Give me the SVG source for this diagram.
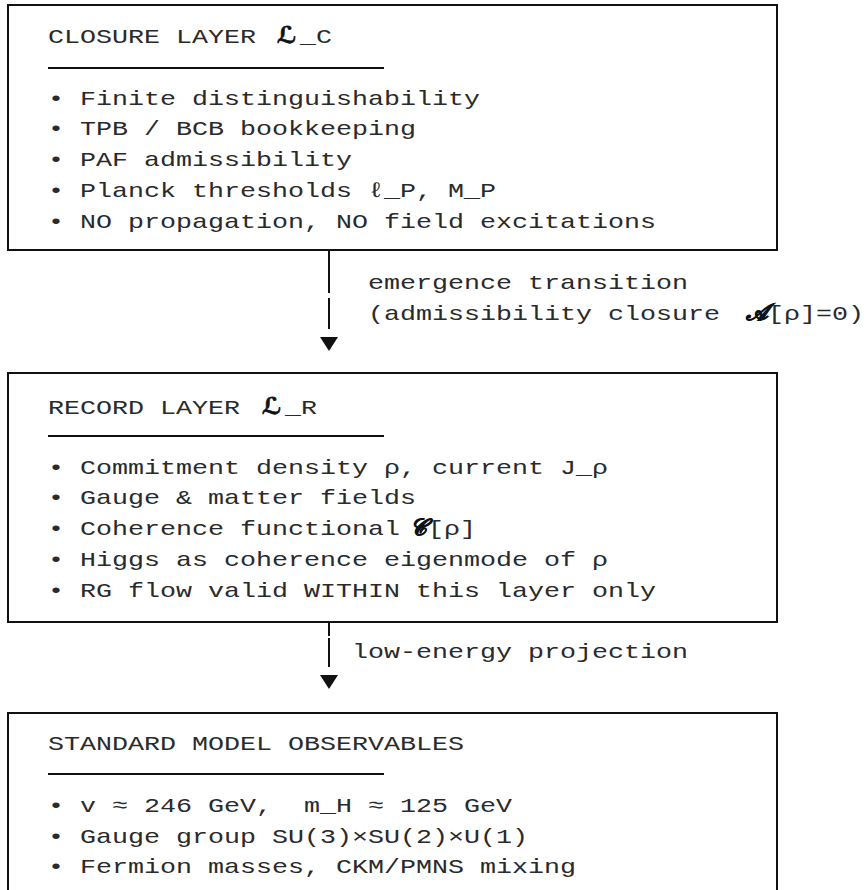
<svg xmlns="http://www.w3.org/2000/svg" width="867" height="890" viewBox="0 0 867 890">
<style>
  .bg { fill: #ffffff; }
  .box { fill: none; stroke: #111111; stroke-width: 2; }
  .rule { stroke: #111111; stroke-width: 2; }
  .conn { stroke: #111111; stroke-width: 2; fill: none; }
  .arrow { fill: #111111; }
  .t { font-family: "Liberation Mono", "DejaVu Sans Mono", monospace; font-size: 21px; fill: #2a2a2a; }
  .m { font-family: "DejaVu Sans", "Noto Sans", "DejaVu Serif", sans-serif; font-size: 23px; font-weight: bold; font-style: italic; fill: #111111; stroke: #111111; stroke-width: 0.7; }
</style>
<defs>
  <path id="tri" class="arrow" d="M-9,0 H9 L0,14 Z"/>
</defs>
<rect class="bg" x="0" y="0" width="867" height="890"/>

<g id="closure-layer">
  <path class="box" d="M8,5 H777 V250 H8 Z"/>
  <text class="t" x="48" y="43" textLength="208" lengthAdjust="spacingAndGlyphs">CLOSURE LAYER</text>
  <text class="m" x="277" y="43">ℒ</text>
  <text class="t" x="300" y="43" textLength="32" lengthAdjust="spacingAndGlyphs">_C</text>
  <line class="rule" x1="48" y1="68" x2="384" y2="68"/>
  <text class="t" x="48" y="104.5" textLength="432" lengthAdjust="spacingAndGlyphs">• Finite distinguishability</text>
  <text class="t" x="48" y="135.3" textLength="368" lengthAdjust="spacingAndGlyphs">• TPB / BCB bookkeeping</text>
  <text class="t" x="48" y="166" textLength="304" lengthAdjust="spacingAndGlyphs">• PAF admissibility</text>
  <text class="t" x="48" y="196.8" textLength="448" lengthAdjust="spacingAndGlyphs">• Planck thresholds ℓ_P, M_P</text>
  <text class="t" x="48" y="227.5" textLength="608" lengthAdjust="spacingAndGlyphs">• NO propagation, NO field excitations</text>
</g>

<g id="record-layer">
  <path class="box" d="M8,373 H777 V622 H8 Z"/>
  <text class="t" x="48" y="414" textLength="192" lengthAdjust="spacingAndGlyphs">RECORD LAYER</text>
  <text class="m" x="262" y="414">ℒ</text>
  <text class="t" x="285" y="414" textLength="32" lengthAdjust="spacingAndGlyphs">_R</text>
  <line class="rule" x1="48" y1="436" x2="384" y2="436"/>
  <text class="t" x="48" y="473.6" textLength="560" lengthAdjust="spacingAndGlyphs">• Commitment density ρ, current J_ρ</text>
  <text class="t" x="48" y="504.3" textLength="368" lengthAdjust="spacingAndGlyphs">• Gauge &amp; matter fields</text>
  <text class="t" x="48" y="535" textLength="352" lengthAdjust="spacingAndGlyphs">• Coherence functional</text>
  <text class="m" x="410" y="535">𝒞</text>
  <text class="t" x="428" y="535" textLength="48" lengthAdjust="spacingAndGlyphs">[ρ]</text>
  <text class="t" x="48" y="565.8" textLength="560" lengthAdjust="spacingAndGlyphs">• Higgs as coherence eigenmode of ρ</text>
  <text class="t" x="48" y="596.5" textLength="608" lengthAdjust="spacingAndGlyphs">• RG flow valid WITHIN this layer only</text>
</g>

<g id="sm-observables">
  <path class="box" d="M8,891 V713 H777 V891"/>
  <text class="t" x="48" y="750" textLength="416" lengthAdjust="spacingAndGlyphs">STANDARD MODEL OBSERVABLES</text>
  <line class="rule" x1="48" y1="774" x2="384" y2="774"/>
  <text class="t" xml:space="preserve" x="48" y="811.8" textLength="464" lengthAdjust="spacingAndGlyphs">• v ≈ 246 GeV,  m_H ≈ 125 GeV</text>
  <text class="t" x="48" y="842.5" textLength="480" lengthAdjust="spacingAndGlyphs">• Gauge group SU(3)×SU(2)×U(1)</text>
  <text class="t" x="48" y="873.3" textLength="528" lengthAdjust="spacingAndGlyphs">• Fermion masses, CKM/PMNS mixing</text>
</g>

<g id="connectors">
  <g id="emergence-transition">
    <path class="conn" d="M329,250 V293 M329,298 V329"/>
    <use href="#tri" x="329" y="337"/>
    <text class="t" x="368" y="289" textLength="320" lengthAdjust="spacingAndGlyphs">emergence transition</text>
    <text class="t" x="368" y="320" textLength="352" lengthAdjust="spacingAndGlyphs">(admissibility closure</text>
    <text class="m" x="746" y="320">𝒜</text>
    <text class="t" x="768" y="320" textLength="96" lengthAdjust="spacingAndGlyphs">[ρ]=0)</text>
  </g>
  <g id="low-energy-projection">
    <path class="conn" d="M329,622 V636 M329,638 V667"/>
    <use href="#tri" x="329" y="675"/>
    <text class="t" x="352" y="658" textLength="336" lengthAdjust="spacingAndGlyphs">low-energy projection</text>
  </g>
</g>
</svg>
